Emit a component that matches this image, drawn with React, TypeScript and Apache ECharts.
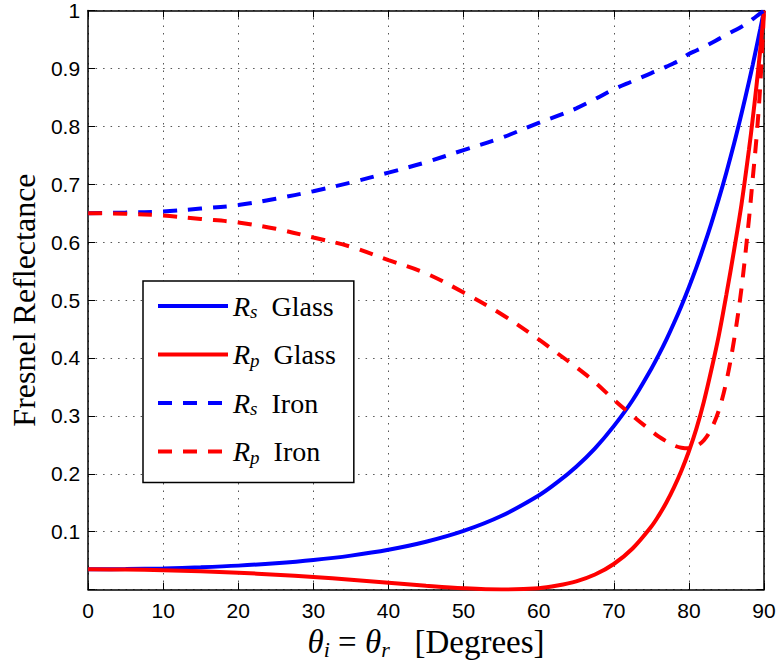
import React, { useEffect, useRef } from "react";
import * as echarts from "echarts";

// Angle of incidence (degrees), shared by all series
const ANGLES = [0, 5, 10, 15, 20, 25, 30, 35, 40, 45, 50, 55, 60, 62.5, 65, 67.5, 70, 72.5, 75, 76, 77, 78, 79, 80, 81, 82, 83, 84, 85, 86, 87, 88, 88.5, 89, 89.5, 90];

const RS_GLASS = [0.035, 0.0355, 0.0365, 0.0386, 0.0414, 0.0455, 0.0511, 0.0587, 0.0688, 0.0826, 0.1013, 0.127, 0.1625, 0.1855, 0.2122, 0.244, 0.2823, 0.327, 0.3815, 0.4058, 0.4318, 0.4599, 0.4899, 0.5221, 0.5565, 0.5934, 0.633, 0.6755, 0.7208, 0.7693, 0.8216, 0.8771, 0.9062, 0.9366, 0.9678, 1];
const RP_GLASS = [0.035, 0.0346, 0.0335, 0.0316, 0.0291, 0.0258, 0.0217, 0.0171, 0.012, 0.0068, 0.0024, 0.0002, 0.0024, 0.007, 0.0142, 0.026, 0.0442, 0.071, 0.1089, 0.1282, 0.1504, 0.1761, 0.2053, 0.2389, 0.278, 0.325, 0.38, 0.44, 0.51, 0.585, 0.665, 0.76, 0.813, 0.87, 0.932, 1];
const RS_IRON = [0.65, 0.651, 0.653, 0.658, 0.664, 0.675, 0.688, 0.703, 0.72, 0.738, 0.759, 0.78, 0.806, 0.818, 0.831, 0.847, 0.864, 0.878, 0.892, 0.897, 0.903, 0.909, 0.916, 0.925, 0.931, 0.937, 0.944, 0.951, 0.958, 0.965, 0.972, 0.98, 0.985, 0.99, 0.995, 1];
const RP_IRON = [0.65, 0.649, 0.646, 0.64, 0.634, 0.623, 0.608, 0.592, 0.569, 0.546, 0.513, 0.476, 0.432, 0.408, 0.384, 0.358, 0.328, 0.3, 0.274, 0.264, 0.256, 0.249, 0.245, 0.244, 0.248, 0.258, 0.278, 0.31, 0.36, 0.43, 0.52, 0.64, 0.71, 0.78, 0.87, 1];

const SERIES_NAMES = ["Rs Glass", "Rp Glass", "Rs Iron", "Rp Iron"];
const X_TICKS = [0, 10, 20, 30, 40, 50, 60, 70, 80, 90];
const Y_TICKS = [0, 0.1, 0.2, 0.3, 0.4, 0.5, 0.6, 0.7, 0.8, 0.9, 1];

const SERIF = "'Liberation Serif', 'DejaVu Serif', serif";
const SANS = "'Liberation Sans', Arial, sans-serif";

const BLUE = "#0000ff";
const RED = "#ff0000";

export default function App() {
  const ref = useRef<HTMLDivElement>(null);

  useEffect(() => {
    if (!ref.current) return;
    const chart = echarts.init(ref.current, null, { renderer: "svg" });

    const pairs = (vals: number[]) => ANGLES.map((a, i) => [a, vals[i]]);
    const values = [RS_GLASS, RP_GLASS, RS_IRON, RP_IRON];
    const colors = [BLUE, RED, BLUE, RED];
    const dashed = [false, false, true, true];

    const richLegend = {
      r: { fontFamily: SERIF, fontStyle: "italic", fontSize: 28, lineHeight: 30, color: "#000" },
      s: { fontFamily: SERIF, fontStyle: "italic", fontSize: 19, lineHeight: 18, verticalAlign: "bottom", color: "#000" },
      t: { fontFamily: SERIF, fontSize: 28, lineHeight: 30, color: "#000" },
    };

    const axisLine = { show: true, onZero: false, lineStyle: { color: "#000", width: 1.5 } };
    const xMin = X_TICKS[0];
    const xMax = X_TICKS[X_TICKS.length - 1];
    const yMin = Y_TICKS[0];
    const yMax = Y_TICKS[Y_TICKS.length - 1];

    chart.setOption({
      animation: false,
      backgroundColor: "#fff",
      grid: { left: 83, right: 15, top: 5, bottom: 75, containLabel: false },
      xAxis: [
        {
          type: "value",
          min: xMin,
          max: xMax,
          interval: 10,
          position: "bottom",
          axisLine,
          axisTick: { show: true, inside: true, length: 7, lineStyle: { color: "#000", width: 1 } },
          axisLabel: { color: "#000", fontFamily: SANS, fontSize: 21, margin: 10 },
          splitLine: { show: true, lineStyle: { color: "#555", width: 1, type: [1.5, 6] } },
          name: "{it|θ}{sub|i}{n| = }{it|θ}{sub|r}{n|   [Degrees]}",
          nameLocation: "middle",
          nameGap: 31,
          nameTextStyle: {
            color: "#000",
            fontFamily: SERIF,
            fontSize: 33,
            rich: {
              it: { fontFamily: SERIF, fontStyle: "italic", fontSize: 33, lineHeight: 36, color: "#000" },
              sub: { fontFamily: SERIF, fontStyle: "italic", fontSize: 22, lineHeight: 22, verticalAlign: "bottom", color: "#000" },
              n: { fontFamily: SERIF, fontSize: 33, lineHeight: 36, color: "#000" },
            },
          },
        },
        {
          type: "value",
          min: xMin,
          max: xMax,
          interval: 10,
          position: "top",
          axisLine,
          axisTick: { show: true, inside: true, length: 7, lineStyle: { color: "#000", width: 1 } },
          axisLabel: { show: false },
          splitLine: { show: false },
        },
      ],
      yAxis: [
        {
          type: "value",
          min: yMin,
          max: yMax,
          interval: 0.1,
          position: "left",
          axisLine,
          axisTick: { show: true, inside: true, length: 7, lineStyle: { color: "#000", width: 1 } },
          axisLabel: {
            color: "#000",
            fontFamily: SANS,
            fontSize: 21,
            margin: 8,
            formatter: (v: number) => (v === 0 ? "" : String(Math.round(v * 10) / 10)),
          },
          splitLine: { show: true, lineStyle: { color: "#555", width: 1, type: [1.5, 6] } },
          name: "Fresnel Reflectance",
          nameLocation: "middle",
          nameRotate: 90,
          nameGap: 46,
          nameTextStyle: { color: "#000", fontFamily: SERIF, fontSize: 32 },
        },
        {
          type: "value",
          min: yMin,
          max: yMax,
          interval: 0.1,
          position: "right",
          axisLine,
          axisTick: { show: true, inside: true, length: 7, lineStyle: { color: "#000", width: 1 } },
          axisLabel: { show: false },
          splitLine: { show: false },
        },
      ],
      legend: {
        orient: "vertical",
        left: 143,
        top: 281,
        padding: [11, 18, 16, 13],
        itemWidth: 70,
        itemHeight: 14,
        itemGap: 19.5,
        backgroundColor: "#fff",
        borderColor: "#000",
        borderWidth: 1.5,
        borderRadius: 0,
        selectedMode: false,
        lineStyle: { width: 4 },
        itemStyle: { opacity: 0 },
        data: SERIES_NAMES,
        formatter: (name: string) => {
          const [sym, mat] = name.split(" ");
          return `{r|R}{s|${sym.slice(1)}}{t|  ${mat}}`;
        },
        textStyle: { color: "#000", fontFamily: SERIF, fontSize: 28, rich: richLegend },
      },
      series: SERIES_NAMES.map((name, i) => ({
        name,
        type: "line",
        xAxisIndex: 0,
        yAxisIndex: 0,
        data: pairs(values[i]),
        symbol: "none",
        showSymbol: false,
        smooth: 0.35,
        clip: true,
        lineStyle: {
          color: colors[i],
          width: 4,
          type: dashed[i] ? [14, 11] : "solid",
          cap: "butt",
        },
        itemStyle: { color: colors[i] },
        emphasis: { disabled: true },
        z: 2 + i,
      })),
    });

    return () => chart.dispose();
  }, []);

  return (
    <div
      ref={ref}
      style={{ position: "absolute", left: 0, top: 0, width: 779, height: 665, background: "#fff" }}
    />
  );
}
